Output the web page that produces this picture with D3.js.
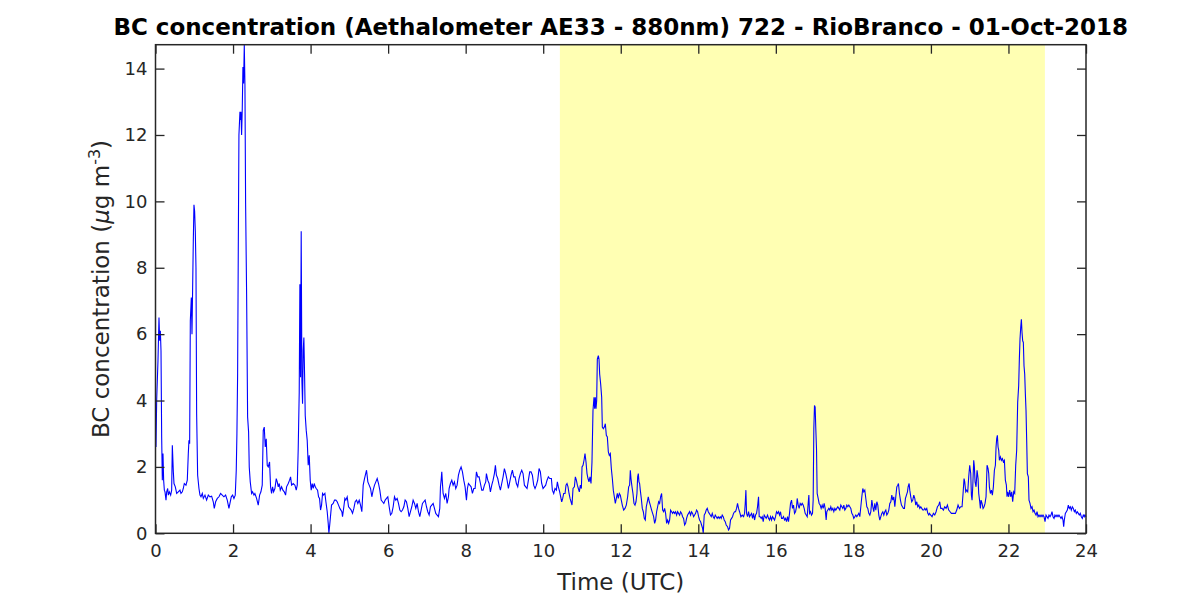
<!DOCTYPE html>
<html>
<head>
<meta charset="utf-8">
<script src="https://cdn.jsdelivr.net/npm/d3@7"></script>
<style>
  html, body { margin: 0; padding: 0; background: #fff; }
  svg { display: block; }
  text { font-family: "DejaVu Sans", sans-serif; }
</style>
</head>
<body>
<svg id="chart" width="1200" height="600"></svg>
<script>
// ---------------- DATA ----------------
const chartTitle = "BC concentration (Aethalometer AE33 - 880nm) 722 - RioBranco - 01-Oct-2018";
const xTicks = [0, 2, 4, 6, 8, 10, 12, 14, 16, 18, 20, 22, 24];
const yTicks = [0, 2, 4, 6, 8, 10, 12, 14];
const daylight = [10.43, 22.94]; // shaded period (UTC hours)

// time (UTC hours)
const hours = [
  // 0 - 2.54 h
  0.013,0.030,0.064,0.090,0.107,0.125,0.142,0.159,0.176,0.193,0.210,0.228,0.245,0.271,0.288,0.314,0.331,0.357,0.391,0.417,0.434,0.460,0.477,0.511,0.546,0.588,0.631,0.657,0.692,0.717,0.743,0.786,0.820,0.846,0.863,0.881,0.898,0.924,0.941,0.958,0.975,0.992,1.009,1.027,1.044,1.061,1.087,1.121,1.147,1.173,1.207,1.233,1.276,1.318,1.362,1.405,1.448,1.490,1.516,1.551,1.594,1.637,1.679,1.722,1.765,1.808,1.851,1.894,1.920,1.955,1.989,2.023,2.057,2.083,2.100,2.118,2.135,2.152,2.178,2.195,2.204,2.221,2.238,2.255,2.272,2.290,2.307,2.324,2.350,2.376,2.401,2.418,2.444,2.479,2.504,2.539,
  // 2.56 - 4.47 h
  2.564,2.607,2.650,2.685,2.719,2.753,2.779,2.805,2.831,2.856,2.882,2.908,2.942,2.968,2.994,3.020,3.046,3.080,3.115,3.140,3.166,3.192,3.218,3.252,3.286,3.321,3.355,3.381,3.424,3.458,3.484,3.510,3.553,3.596,3.630,3.656,3.681,3.707,3.724,3.741,3.758,3.776,3.793,3.810,3.827,3.845,3.862,3.888,3.913,3.939,3.965,3.991,4.016,4.042,4.068,4.094,4.120,4.145,4.180,4.206,4.231,4.257,4.283,4.309,4.334,4.369,4.395,4.429,4.455,4.472,
  // 4.50 - 10.13 h
  4.497,4.540,4.583,4.618,4.652,4.686,4.721,4.755,4.807,4.824,4.858,4.884,4.910,4.944,4.979,5.013,5.047,5.082,5.116,5.150,5.185,5.219,5.254,5.288,5.322,5.357,5.391,5.443,5.477,5.511,5.546,5.580,5.614,5.649,5.683,5.718,5.752,5.786,5.821,5.855,5.889,5.924,5.958,5.992,6.027,6.061,6.095,6.130,6.164,6.198,6.233,6.267,6.302,6.336,6.370,6.405,6.439,6.473,6.508,6.542,6.576,6.611,6.645,6.680,6.714,6.748,6.783,6.817,6.851,6.886,6.920,6.954,6.989,7.023,7.058,7.092,7.126,7.161,7.195,7.229,7.264,7.298,7.332,7.350,7.367,7.384,7.401,7.418,7.453,7.487,7.521,7.556,7.573,7.607,7.642,7.676,7.710,7.745,7.779,7.814,7.848,7.882,7.917,7.951,7.985,8.020,8.045,8.071,8.106,8.140,8.174,8.209,8.243,8.278,8.312,8.346,8.381,8.415,8.449,8.484,8.518,8.535,8.570,8.604,8.638,8.673,8.707,8.741,8.767,8.793,8.827,8.862,8.896,8.930,8.965,8.999,9.034,9.068,9.102,9.137,9.171,9.205,9.240,9.274,9.308,9.343,9.377,9.411,9.446,9.480,9.515,9.549,9.583,9.618,9.652,9.686,9.721,9.755,9.789,9.824,9.858,9.893,9.927,9.961,9.996,10.030,10.064,10.099,10.133,
  // 10.17 - 15.06 h
  10.168,10.211,10.236,10.271,10.305,10.339,10.365,10.391,10.425,10.451,10.477,10.503,10.528,10.563,10.588,10.614,10.640,10.666,10.692,10.718,10.743,10.769,10.804,10.829,10.855,10.881,10.906,10.932,10.958,10.984,11.001,11.027,11.053,11.078,11.104,11.130,11.155,11.181,11.207,11.233,11.258,11.284,11.310,11.327,11.344,11.362,11.379,11.396,11.422,11.439,11.456,11.482,11.508,11.525,11.551,11.577,11.602,11.628,11.654,11.680,11.705,11.731,11.757,11.783,11.808,11.834,11.860,11.886,11.912,11.937,11.963,11.989,12.014,12.040,12.075,12.109,12.143,12.178,12.204,12.229,12.247,12.264,12.290,12.315,12.341,12.367,12.393,12.418,12.436,12.453,12.470,12.487,12.504,12.530,12.556,12.582,12.607,12.633,12.659,12.685,12.710,12.736,12.762,12.796,12.822,12.848,12.874,12.899,12.925,12.951,12.977,13.003,13.028,13.054,13.080,13.106,13.131,13.157,13.183,13.209,13.235,13.260,13.286,13.312,13.338,13.363,13.389,13.415,13.441,13.466,13.492,13.518,13.544,13.570,13.595,13.621,13.647,13.673,13.698,13.724,13.750,13.776,13.801,13.827,13.853,13.879,13.905,13.930,13.956,13.982,14.008,14.033,14.059,14.085,14.111,14.128,14.153,14.179,14.205,14.231,14.257,14.282,14.308,14.334,14.360,14.385,14.411,14.437,14.463,14.488,14.514,14.540,14.566,14.591,14.617,14.643,14.669,14.695,14.720,14.754,14.780,14.806,14.832,14.858,14.883,14.909,14.935,14.961,14.987,15.012,15.038,15.064,
  // 15.10 - 19.95 h
  15.099,15.133,15.168,15.193,15.211,15.228,15.245,15.271,15.296,15.322,15.348,15.374,15.399,15.425,15.451,15.477,15.503,15.528,15.554,15.571,15.597,15.623,15.649,15.675,15.700,15.726,15.752,15.786,15.812,15.838,15.863,15.889,15.915,15.941,15.967,15.992,16.018,16.044,16.070,16.095,16.121,16.147,16.173,16.198,16.224,16.250,16.276,16.302,16.327,16.353,16.379,16.405,16.430,16.456,16.482,16.508,16.534,16.551,16.577,16.602,16.628,16.654,16.680,16.705,16.731,16.757,16.783,16.809,16.834,16.852,16.869,16.895,16.920,16.946,16.963,16.980,16.997,17.014,17.031,17.049,17.066,17.092,17.117,17.143,17.169,17.195,17.221,17.246,17.272,17.298,17.315,17.341,17.367,17.393,17.418,17.444,17.470,17.496,17.522,17.547,17.573,17.599,17.625,17.650,17.676,17.702,17.728,17.754,17.779,17.805,17.831,17.857,17.883,17.908,17.934,17.960,17.986,18.011,18.037,18.063,18.089,18.115,18.140,18.166,18.192,18.218,18.243,18.269,18.295,18.321,18.347,18.372,18.398,18.424,18.450,18.476,18.501,18.527,18.553,18.579,18.605,18.630,18.656,18.682,18.708,18.733,18.759,18.785,18.811,18.837,18.862,18.888,18.914,18.940,18.966,18.991,19.017,19.043,19.069,19.094,19.120,19.146,19.163,19.188,19.214,19.240,19.266,19.291,19.317,19.343,19.369,19.395,19.412,19.438,19.455,19.480,19.506,19.532,19.558,19.584,19.609,19.635,19.661,19.687,19.713,19.738,19.764,19.790,19.816,19.841,19.867,19.893,19.919,19.945,
  // 19.96 - 24 h
  19.961,19.996,20.030,20.064,20.099,20.133,20.168,20.202,20.228,20.253,20.288,20.322,20.356,20.391,20.425,20.459,20.494,20.528,20.563,20.597,20.631,20.666,20.700,20.735,20.769,20.803,20.829,20.855,20.872,20.898,20.924,20.950,20.975,21.001,21.027,21.044,21.061,21.079,21.104,21.121,21.139,21.164,21.190,21.216,21.233,21.259,21.276,21.293,21.319,21.345,21.371,21.396,21.422,21.448,21.474,21.491,21.508,21.534,21.560,21.585,21.611,21.637,21.663,21.680,21.697,21.714,21.732,21.749,21.766,21.792,21.817,21.843,21.869,21.895,21.920,21.946,21.963,21.981,22.006,22.032,22.058,22.084,22.109,22.135,22.161,22.187,22.212,22.238,22.264,22.281,22.298,22.316,22.333,22.350,22.367,22.384,22.401,22.419,22.436,22.453,22.470,22.488,22.513,22.530,22.556,22.582,22.608,22.634,22.659,22.685,22.711,22.737,22.763,22.788,22.814,22.840,22.866,22.891,22.917,22.943,22.969,22.994,23.020,23.046,23.072,23.097,23.123,23.149,23.175,23.200,23.226,23.252,23.278,23.303,23.329,23.355,23.381,23.407,23.424,23.441,23.467,23.493,23.518,23.544,23.570,23.596,23.621,23.647,23.673,23.699,23.724,23.750,23.776,23.802,23.827,23.853,23.879,23.905,23.930,23.956,23.973,24.000
];

// BC concentration (µg m-3)
const bc = [
  // 0 - 2.54 h
  2.6,4.0,5.2,6.5,5.8,6.1,5.5,2.9,1.6,2.4,1.6,1.3,1.25,1.0,1.25,1.35,1.15,1.25,1.15,1.3,2.65,1.85,1.5,1.4,1.2,1.25,1.3,1.2,1.25,1.35,1.5,1.45,1.6,2.4,2.8,2.7,6.4,7.1,6.0,7.4,8.8,9.9,9.7,9.1,8.0,3.6,1.75,1.35,1.15,1.1,1.2,1.05,1.15,1.0,1.15,1.1,1.12,0.95,0.75,0.95,1.05,1.1,1.2,1.15,1.1,1.15,1.0,0.75,0.9,1.1,1.15,1.05,1.15,1.9,3.0,4.8,8.5,12.0,12.7,12.45,12.7,12.0,12.8,14.05,13.55,14.72,13.5,9.95,7.2,3.5,3.05,2.0,1.55,1.2,1.25,1.15,
  // 2.56 - 4.47 h
  1.2,1.05,0.85,1.15,1.25,1.45,3.1,3.2,2.6,2.85,2.05,2.0,2.15,1.4,1.2,1.4,1.25,1.35,1.65,1.55,1.4,1.5,1.3,1.4,1.3,1.25,1.15,1.4,1.5,1.6,1.7,1.45,1.5,1.45,1.3,1.45,2.55,4.25,7.5,4.7,9.1,4.6,3.9,5.5,5.9,4.8,3.55,3.1,2.8,2.05,2.35,1.6,1.3,1.5,1.35,1.5,1.4,1.35,1.3,1.1,1.05,0.7,0.85,1.2,1.15,1.2,0.95,0.65,0.3,0.0,
  // 4.50 - 10.13 h
  0.3,0.85,0.9,1.0,1.0,0.95,0.85,0.75,0.65,0.5,0.8,1.05,1.0,1.1,0.8,0.75,0.7,0.6,0.75,0.95,1.0,0.9,1.0,0.85,0.65,1.45,1.65,1.9,1.55,1.45,1.35,1.1,1.3,1.45,1.55,1.65,1.5,1.3,1.0,0.95,0.9,1.0,1.05,1.1,0.8,0.55,0.6,0.8,1.1,1.0,1.05,0.9,0.7,0.65,0.7,0.8,1.0,0.95,0.75,0.5,0.65,0.8,1.0,0.9,0.75,0.9,0.65,0.5,0.7,0.9,0.95,1.0,0.8,0.65,0.55,0.8,0.85,0.9,0.75,0.6,0.55,0.5,0.75,1.4,1.6,1.85,1.5,1.2,1.05,1.2,0.9,1.1,1.35,1.5,1.6,1.45,1.55,1.35,1.45,1.75,1.9,2.0,1.85,1.6,1.4,1.0,1.35,1.5,1.45,1.4,1.2,1.35,1.35,1.85,1.7,1.7,1.5,1.3,1.3,1.45,1.55,1.8,1.6,1.5,1.25,1.45,1.6,1.8,2.05,1.75,1.65,1.45,1.3,1.5,1.7,1.95,1.8,1.6,1.35,1.55,1.75,1.9,1.7,1.7,1.5,1.4,1.65,1.8,1.9,1.8,1.45,1.4,1.35,1.6,1.85,1.85,1.75,1.45,1.35,1.45,1.6,1.95,1.85,1.5,1.35,1.4,1.45,1.6,1.7,
  // 10.17 - 15.06 h
  1.65,1.65,1.3,1.2,1.35,1.3,1.55,1.4,1.25,1.1,0.95,1.05,1.2,1.2,1.45,1.5,1.4,1.2,1.05,0.95,0.85,1.35,1.4,1.7,1.6,1.45,1.35,1.25,1.45,1.35,2.0,2.05,2.2,2.4,2.15,1.8,1.65,1.55,1.7,1.5,2.15,3.7,4.1,3.75,4.1,3.75,4.0,5.25,5.35,5.25,4.8,4.5,4.1,3.2,3.15,3.2,3.3,2.95,2.9,2.45,2.35,2.4,1.95,1.65,1.3,1.1,0.9,1.05,1.2,1.05,1.2,1.15,1.0,0.85,0.7,0.75,0.85,1.1,1.4,1.45,1.9,1.65,1.4,1.2,0.9,0.85,0.95,1.2,1.7,1.8,1.55,1.5,1.3,1.05,0.75,0.65,0.45,0.4,0.8,0.95,1.1,0.95,0.85,0.7,0.6,0.5,0.3,0.4,0.65,0.8,0.95,0.9,1.1,1.2,0.7,0.65,0.75,0.6,0.3,0.4,0.3,0.4,0.7,0.65,0.6,0.65,0.6,0.65,0.55,0.65,0.6,0.55,0.65,0.6,0.5,0.45,0.25,0.3,0.45,0.55,0.6,0.65,0.55,0.65,0.6,0.5,0.55,0.6,0.7,0.65,0.5,0.4,0.35,0.25,0.15,0.0,0.55,0.6,0.7,0.75,0.65,0.6,0.55,0.5,0.6,0.5,0.45,0.55,0.5,0.45,0.5,0.45,0.5,0.45,0.55,0.5,0.4,0.35,0.25,0.2,0.1,0.15,0.4,0.45,0.5,0.6,0.65,0.65,0.75,0.9,0.75,0.65,
  // 15.10 - 19.95 h
  0.5,0.55,0.5,0.6,0.9,1.3,0.6,0.5,0.65,0.5,0.55,0.6,0.45,0.6,0.4,0.55,0.6,0.8,1.1,0.5,0.5,0.45,0.5,0.35,0.55,0.5,0.45,0.55,0.45,0.4,0.5,0.4,0.5,0.45,0.4,0.5,0.65,0.6,0.65,0.55,0.65,0.45,0.45,0.5,0.4,0.45,0.35,0.5,0.35,0.6,0.9,1.0,0.75,0.85,0.6,0.65,0.8,1.05,0.85,0.75,0.9,0.85,0.9,0.85,0.75,0.6,0.55,0.5,0.9,1.15,0.6,0.65,0.55,0.6,1.0,3.15,3.85,3.8,3.15,2.55,1.2,1.05,0.9,0.85,0.75,0.85,0.75,0.9,0.75,0.4,0.65,0.7,0.75,0.7,0.8,0.7,0.75,0.65,0.75,0.7,0.75,0.8,0.75,0.7,0.85,0.8,0.75,0.85,0.7,0.75,0.85,0.8,0.85,0.8,0.75,0.6,0.55,0.45,0.5,0.55,0.5,0.55,0.6,0.5,0.8,1.1,1.35,1.25,1.3,1.05,0.8,0.75,0.6,0.55,0.65,1.0,0.8,0.65,0.9,0.7,0.95,0.85,0.55,0.4,0.5,0.6,0.65,0.55,0.65,0.7,0.55,0.6,0.7,0.9,0.95,1.15,1.0,1.1,0.8,1.1,1.4,1.45,1.5,1.2,1.0,0.85,0.8,0.75,0.75,1.05,1.15,1.25,1.4,1.5,1.3,1.1,0.95,1.0,1.15,1.05,0.85,0.95,0.8,0.85,0.75,0.8,0.75,0.7,0.7,0.75,0.7,0.75,0.6,0.55,
  // 19.96 - 24 h
  0.6,0.55,0.5,0.6,0.55,0.65,0.8,0.85,0.95,0.75,0.75,0.7,0.8,0.75,0.85,0.7,0.65,0.6,0.6,0.6,0.6,0.7,0.85,0.75,0.8,0.8,1.2,1.65,1.55,1.25,1.3,1.25,1.7,2.05,1.8,1.15,1.0,1.4,2.2,2.0,1.55,1.4,1.9,1.65,1.2,0.95,0.75,1.0,0.9,0.75,0.8,0.9,1.1,2.05,1.95,1.8,1.4,1.2,1.3,1.15,1.4,1.9,2.05,2.6,2.85,2.95,2.6,2.5,2.2,2.3,2.2,2.25,2.15,2.2,1.6,1.45,1.1,1.25,1.1,1.3,1.1,1.25,0.95,1.25,1.2,2.05,2.5,3.95,4.45,5.25,5.85,6.2,6.45,6.05,5.8,5.75,5.05,4.8,4.2,3.7,2.8,1.8,1.7,1.0,0.9,0.75,0.8,0.65,0.7,0.6,0.55,0.65,0.5,0.55,0.5,0.55,0.5,0.55,0.5,0.35,0.55,0.5,0.45,0.55,0.5,0.55,0.65,0.5,0.45,0.55,0.5,0.55,0.5,0.55,0.5,0.45,0.5,0.4,0.2,0.4,0.6,0.65,0.7,0.85,0.75,0.8,0.7,0.8,0.75,0.65,0.7,0.6,0.65,0.6,0.55,0.6,0.5,0.45,0.55,0.5,0.55,0.5
];

// ---------------- CHART ----------------
const svg = d3.select("#chart");
const W = 1200, H = 600;
const plot = { left: 155.5, right: 1086, top: 44.7, bottom: 533.3 };
const axisColor = "#262626";
const n = Math.min(hours.length, bc.length);
const data = d3.range(n).map(i => ({ t: hours[i], v: bc[i] }));

const x = d3.scaleLinear().domain([0, 24]).range([plot.left, plot.right]);
const y = d3.scaleLinear().domain([0, d3.max(bc)]).range([plot.bottom, plot.top]);

svg.append("rect").attr("x", 0).attr("y", 0).attr("width", W).attr("height", H).attr("fill", "#fff");

// daylight shading
svg.append("rect")
  .attr("x", x(daylight[0]))
  .attr("y", plot.top)
  .attr("width", x(daylight[1]) - x(daylight[0]))
  .attr("height", plot.bottom - plot.top)
  .attr("fill", "#ffffb3");

// data line
svg.append("path")
  .datum(data)
  .attr("fill", "none")
  .attr("stroke", "#0000ff")
  .attr("stroke-width", 1.1)
  .attr("stroke-linejoin", "miter")
  .attr("d", d3.line().x(d => x(d.t)).y(d => y(d.v)));

// axes
function styleAxis(g) {
  g.select(".domain").remove();
  g.selectAll(".tick line").attr("stroke", axisColor).attr("stroke-width", 1.3);
  g.selectAll(".tick text").attr("fill", axisColor).style("font-size", "18px")
    .style("font-family", "'DejaVu Sans', sans-serif");
}
svg.append("g").attr("transform", `translate(0,${plot.bottom})`)
  .call(d3.axisBottom(x).tickValues(xTicks).tickSize(-9).tickPadding(11).tickFormat(d3.format("d")))
  .call(styleAxis);
svg.append("g").attr("transform", `translate(0,${plot.top})`)
  .call(d3.axisTop(x).tickValues(xTicks).tickSize(-9).tickFormat(""))
  .call(styleAxis);
svg.append("g").attr("transform", `translate(${plot.left},0)`)
  .call(d3.axisLeft(y).tickValues(yTicks).tickSize(-9).tickPadding(8).tickFormat(d3.format("d")))
  .call(styleAxis);
svg.append("g").attr("transform", `translate(${plot.right},0)`)
  .call(d3.axisRight(y).tickValues(yTicks).tickSize(-9).tickFormat(""))
  .call(styleAxis);

// box
svg.append("rect")
  .attr("x", plot.left).attr("y", plot.top)
  .attr("width", plot.right - plot.left).attr("height", plot.bottom - plot.top)
  .attr("fill", "none").attr("stroke", axisColor).attr("stroke-width", 1.5);

// title
svg.append("text")
  .attr("x", (plot.left + plot.right) / 2).attr("y", 35)
  .attr("text-anchor", "middle")
  .style("font-size", "23px").style("font-weight", "bold")
  .attr("fill", "#000")
  .text(chartTitle);

// x label
svg.append("text")
  .attr("x", (plot.left + plot.right) / 2).attr("y", 590)
  .attr("text-anchor", "middle")
  .style("font-size", "23px")
  .attr("fill", axisColor)
  .text("Time (UTC)");

// y label
const yl = svg.append("text")
  .attr("transform", `translate(109,${(plot.top + plot.bottom) / 2}) rotate(-90)`)
  .attr("text-anchor", "middle")
  .style("font-size", "23px")
  .attr("fill", axisColor);
yl.append("tspan").text("BC concentration (");
yl.append("tspan").style("font-style", "italic").text("μ");
yl.append("tspan").text("g m");
yl.append("tspan").attr("dy", -9).style("font-size", "16px").text("-3");
yl.append("tspan").attr("dy", 9).text(")");
</script>
</body>
</html>
